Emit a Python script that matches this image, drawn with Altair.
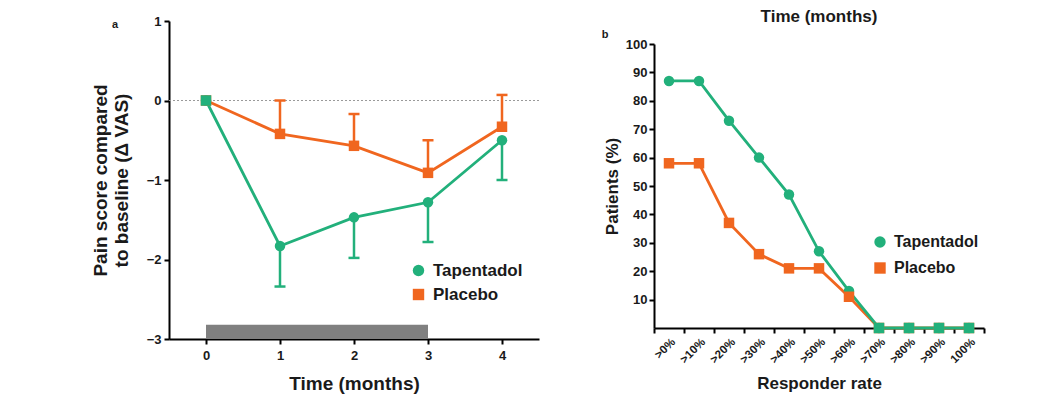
import altair as alt
import pandas as pd

# ---------------- data ----------------
series_names = ["Tapentadol", "Placebo"]

months = [0, 1, 2, 3, 4]
tap_mean = [0.0, -1.83, -1.47, -1.28, -0.50]
tap_sem = [0.0, 0.51, 0.51, 0.50, 0.50]
plac_mean = [0.0, -0.42, -0.57, -0.91, -0.33]
plac_sem = [0.0, 0.42, 0.40, 0.41, 0.40]
treatment_start = [0]
treatment_end = [3]
treatment_bottom = [-3.0]
treatment_top = [-2.82]

resp_cats = [">0%", ">10%", ">20%", ">30%", ">40%", ">50%", ">60%",
             ">70%", ">80%", ">90%", "100%"]
tap_resp = [87, 87, 73, 60, 47, 27, 13, 0, 0, 0, 0]
plac_resp = [58, 58, 37, 26, 21, 21, 11, 0, 0, 0, 0]

GREEN = "#22b07b"
ORANGE = "#f0661f"
GRAY = "#808080"
FONT = "Liberation Sans"
TXT = "#1a1a1a"

# ---------------- tables ----------------
rows_a = []
for s, means, sems, sign in [("Tapentadol", tap_mean, tap_sem, -1),
                             ("Placebo", plac_mean, plac_sem, 1)]:
    for m, v, e in zip(months, means, sems):
        rows_a.append(dict(month=m, series=s, value=v, err=v + sign * e, semv=e))
dfa = pd.DataFrame(rows_a)
overlap_a = pd.DataFrame([dict(month=m, value=t) for m, t, p in zip(months, tap_mean, plac_mean) if t == p])
bar_df = pd.DataFrame(dict(month=treatment_start, end=treatment_end,
                           value=treatment_bottom, top=treatment_top))
zero_df = pd.DataFrame(dict(value=[0]))

rows_b = []
for s, vals in [("Tapentadol", tap_resp), ("Placebo", plac_resp)]:
    for c, v in zip(resp_cats, vals):
        rows_b.append(dict(cat=c, series=s, value=v))
dfb = pd.DataFrame(rows_b)
overlap_b = pd.DataFrame([dict(cat=c, value=t) for c, t, p in zip(resp_cats, tap_resp, plac_resp) if t == p])

color_scale = alt.Scale(domain=series_names, range=[GREEN, ORANGE])
shape_scale = alt.Scale(domain=series_names, range=["circle", "square"])


def legend(x, y, fs, rowpad):
    return alt.Legend(orient="none", legendX=x, legendY=y, title=None,
                      labelFont=FONT, labelFontSize=fs, labelFontWeight="bold",
                      labelColor=TXT, symbolSize=130, symbolStrokeWidth=0,
                      symbolOpacity=1, rowPadding=rowpad, padding=0, labelOffset=6)


# ---------------- panel a ----------------
xa = alt.X("month:Q", scale=alt.Scale(domain=[-0.5, 4.5], nice=False, zero=False),
           axis=alt.Axis(values=months, format="d", title="Time (months)", titleFontSize=19,
                         labelFontSize=13, tickSize=5, labelPadding=5, titlePadding=12))
ya = alt.Y("value:Q", scale=alt.Scale(domain=[-3, 1], nice=False),
           axis=alt.Axis(values=[-3, -2, -1, 0, 1], format="d",
                         title=["Pain score compared", "to baseline (Δ VAS)"],
                         titleFontSize=19, labelFontSize=13, tickSize=5, labelPadding=3,
                         titlePadding=15))

zero_line = alt.Chart(zero_df).mark_rule(color="#9a9a9a", strokeDash=[2, 2], strokeWidth=1.2).encode(
    y=ya)
bar = alt.Chart(bar_df).mark_rect(color=GRAY).encode(
    x=xa, x2="end:Q", y=ya, y2="top:Q")

layers_a = [zero_line, bar]
for s, col in [("Placebo", ORANGE), ("Tapentadol", GREEN)]:
    sub = dfa[(dfa["series"] == s)]
    eb = sub[sub["semv"] > 0]
    layers_a.append(alt.Chart(eb).mark_rule(color=col, strokeWidth=2.5).encode(
        x=xa, y=ya, y2="err:Q"))
    layers_a.append(alt.Chart(eb).mark_tick(color=col, thickness=2.5, size=11,
                                            orient="horizontal", opacity=1).encode(
        x=xa, y=alt.Y("err:Q", scale=alt.Scale(domain=[-3, 1], nice=False),
                      axis=alt.Axis(values=[-3, -2, -1, 0, 1], format="d",
                                    title=["Pain score compared", "to baseline (Δ VAS)"],
                                    titleFontSize=19, labelFontSize=13, tickSize=5,
                                    labelPadding=3, titlePadding=15))))
    layers_a.append(alt.Chart(sub).mark_line(color=col, strokeWidth=2.8).encode(x=xa, y=ya))

leg_a = legend(241, 241, 17, 6)
points_a = alt.Chart(dfa).mark_point(filled=True, size=110, opacity=1).encode(
    x=xa, y=ya,
    color=alt.Color("series:N", scale=color_scale, legend=leg_a),
    shape=alt.Shape("series:N", scale=shape_scale, legend=leg_a))
layers_a.append(points_a)
layers_a.append(alt.Chart(overlap_a).mark_square(color=GREEN, size=110, opacity=1).encode(
    x=xa, y=ya))
label_a = alt.Chart(pd.DataFrame(dict(t=["a"]))).mark_text(
    font=FONT, fontWeight="bold", fontSize=11, color=TXT).encode(
    text="t:N", x=alt.value(-54), y=alt.value(4))
layers_a.append(label_a)

panel_a = alt.layer(*layers_a).properties(width=370, height=318)

# ---------------- panel b ----------------
xb = alt.X("cat:N", sort=resp_cats,
           scale=alt.Scale(domain=resp_cats, paddingInner=0, paddingOuter=0),
           axis=alt.Axis(title="Responder rate", titleFontSize=17, labelFontSize=11.5,
                         labelAngle=-45, tickBand="extent", tickSize=5, labelPadding=3,
                         titlePadding=10, labelOverlap=False))
yb = alt.Y("value:Q", scale=alt.Scale(domain=[0, 100], range=[307, 23], nice=False),
           axis=alt.Axis(values=[10, 20, 30, 40, 50, 60, 70, 80, 90, 100], format="d",
                         title="Patients (%)", labelOverlap=False,
                         titleFontSize=17, labelFontSize=13, tickSize=5, labelPadding=2,
                         titlePadding=4))

layers_b = []
for s, col in [("Placebo", ORANGE), ("Tapentadol", GREEN)]:
    sub = dfb[dfb["series"] == s]
    layers_b.append(alt.Chart(sub).mark_line(color=col, strokeWidth=2.8).encode(x=xb, y=yb))
leg_b = legend(218, 213, 16, 10)
layers_b.append(alt.Chart(dfb).mark_point(filled=True, size=110, opacity=1).encode(
    x=xb, y=yb,
    color=alt.Color("series:N", scale=color_scale, legend=leg_b),
    shape=alt.Shape("series:N", scale=shape_scale, legend=leg_b)))
layers_b.append(alt.Chart(overlap_b).mark_square(color=GREEN, size=110, opacity=1).encode(
    x=xb, y=yb))
layers_b.append(alt.Chart(pd.DataFrame(dict(t=["b"]))).mark_text(
    font=FONT, fontWeight="bold", fontSize=11, color=TXT).encode(
    text="t:N", x=alt.value(-49), y=alt.value(14)))
layers_b.append(alt.Chart(pd.DataFrame(dict(t=["Time (months)"]))).mark_text(
    font=FONT, fontWeight="bold", fontSize=17, color=TXT, baseline="middle").encode(
    text="t:N", x=alt.value(165), y=alt.value(-4)))

panel_b = alt.layer(*layers_b).properties(width=330, height=307)

chart = alt.hconcat(panel_a, panel_b, spacing=115, bounds="flush").resolve_scale(
    color="independent", shape="independent").resolve_legend(
    color="independent", shape="independent").properties(
    padding={"left": 83, "top": 0, "right": 5, "bottom": 5}
).configure_view(stroke=None).configure_axis(
    labelFont=FONT, titleFont=FONT, labelFontWeight="bold", titleFontWeight="bold",
    labelColor=TXT, titleColor=TXT, domainColor="black", tickColor="black",
    domainWidth=2, tickWidth=2, grid=False)

chart.save("out.html", embed_options={"renderer": "svg", "actions": False})
